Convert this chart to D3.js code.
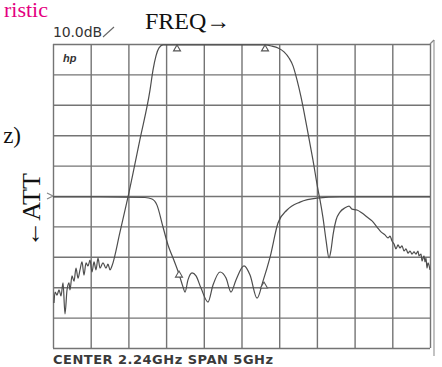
<!DOCTYPE html>
<html>
<head>
<meta charset="utf-8">
<script src="https://cdn.jsdelivr.net/npm/d3@7"></script>
<style>
  html, body { margin: 0; padding: 0; background: #fff; }
  svg { display: block; }
</style>
</head>
<body>
<div id="chart"></div>
<script>
// frequency grid: center 2.24 GHz, span 5 GHz, 0.5 GHz/div
const freqTicks = [-0.26, 0.24, 0.74, 1.24, 1.74, 2.24, 2.74, 3.24, 3.74, 4.24, 4.74];
// attenuation grid: 10 dB/div
const attTicks = [0, -10, -20, -30, -40, -50, -60, -70, -80, -90, -100];

// trace A (transmission)
const traceAFreq = [-0.247, -0.233, -0.207, -0.180, -0.154, -0.127, -0.101, -0.074, -0.048, -0.035,
  -0.008, 0.019, 0.045, 0.072, 0.098, 0.125, 0.151, 0.178, 0.204, 0.231,
  0.257, 0.284, 0.310, 0.337, 0.363, 0.403, 0.443, 0.469, 0.496, 0.522,
  0.629, 0.735, 0.894, 1.027, 1.066, 1.106, 1.146, 1.199, 1.265, 1.690,
  2.220, 2.552, 2.645, 2.724, 2.804, 2.870, 2.923, 2.976, 3.029, 3.109,
  3.188, 3.255, 3.281, 3.321, 3.361, 3.401, 3.427, 3.454, 3.494, 3.546,
  3.613, 3.666, 3.706, 3.772, 3.838, 3.905, 3.971, 4.037, 4.090, 4.143,
  4.183, 4.210, 4.236, 4.263, 4.289, 4.316, 4.342, 4.369, 4.395, 4.422,
  4.448, 4.475, 4.501, 4.528, 4.554, 4.581, 4.594, 4.621, 4.634, 4.661,
  4.674, 4.687, 4.700, 4.714, 4.740];
const traceADb = [-85.2, -81.6, -82.6, -80.9, -82.9, -78.6, -88.8, -80.9, -78.6, -80.9,
  -76.3, -78.0, -73.7, -77.0, -74.3, -71.7, -76.0, -72.0, -73.0, -71.1,
  -75.0, -71.7, -74.3, -70.4, -73.7, -72.0, -73.7, -72.4, -74.3, -73.0,
  -61.8, -50.3, -31.3, -15.1, -8.6, -3.9, -1.3, -0.3, -0.3, -0.3,
  -0.3, -0.3, -0.7, -1.3, -2.6, -4.6, -7.2, -11.8, -17.4, -27.6,
  -38.2, -48.0, -51.3, -57.2, -64.5, -70.4, -67.8, -62.8, -57.9, -55.3,
  -53.9, -53.3, -54.3, -54.6, -55.6, -56.9, -58.2, -60.2, -61.8, -62.8,
  -63.8, -63.2, -64.8, -65.8, -67.4, -66.1, -67.1, -66.4, -68.1, -67.4,
  -68.8, -68.1, -69.1, -68.4, -69.1, -68.1, -69.7, -69.1, -71.4, -69.7,
  -71.7, -70.4, -73.7, -72.0, -74.3];

// trace B (reflection)
const traceBFreq = [-0.26, 0.363, 0.960, 1.053, 1.119, 1.199, 1.265, 1.332, 1.411, 1.464,
  1.491, 1.530, 1.584, 1.637, 1.703, 1.796, 1.862, 1.955, 2.035, 2.101,
  2.167, 2.273, 2.353, 2.446, 2.525, 2.619, 2.724, 2.844, 3.016, 3.241,
  3.546, 4.740];
const traceBDb = [-50.3, -50.3, -50.5, -51.0, -53.0, -60.2, -66.1, -70.4, -75.7, -79.9,
  -81.6, -77.6, -75.3, -76.3, -80.3, -84.9, -79.3, -75.0, -77.0, -81.6,
  -77.6, -73.0, -76.0, -83.6, -78.0, -70.1, -58.9, -54.6, -52.0, -50.7,
  -50.3, -50.3];

// markers (triangles)
const markerAFreq = [1.385, 2.552];
const markerADb = [-0.3, -0.3];
const markerBFreq = [1.411, 2.538];
const markerBDb = [-74.7, -78.3];

const W = 442, H = 367;
const svg = d3.select('#chart').append('svg')
  .attr('width', W)
  .attr('height', H)
  .style('font-family', 'DejaVu Sans, sans-serif');

const x = d3.scaleLinear().domain([-0.26, 4.74]).range([53, 430]);
const y = d3.scaleLinear().domain([0, -100]).range([44, 348]);

const gridColor = '#747474';

// grid lines via axes
svg.append('g')
  .attr('transform', 'translate(0,' + y(-100) + ')')
  .call(d3.axisBottom(x).tickValues(freqTicks).tickSize(y(-100) - y(0)).tickSizeOuter(0).tickFormat(''))
  .call(g => g.select('.domain').remove())
  .selectAll('line')
  .attr('y2', -(y(-100) - y(0)))
  .attr('stroke', gridColor)
  .attr('stroke-width', 1.4);

svg.append('g')
  .attr('transform', 'translate(' + x(-0.26) + ',0)')
  .call(d3.axisLeft(y).tickValues(attTicks).tickSize(-(x(4.74) - x(-0.26))).tickSizeOuter(0).tickFormat(''))
  .call(g => g.select('.domain').remove())
  .selectAll('line')
  .attr('stroke', gridColor)
  .attr('stroke-width', 1.4);

// outer instrument border on the right
svg.append('line')
  .attr('x1', x(4.74) + 4).attr('x2', x(4.74) + 4)
  .attr('y1', y(0) - 4).attr('y2', y(-100) + 8)
  .attr('stroke', '#9a9a9a').attr('stroke-width', 1.2);

// reference markers
svg.append('path')
  .attr('d', 'M' + (x(-0.26) - 6) + ',' + (y(-50) - 3) + 'L' + x(-0.26) + ',' + y(-50) + 'L' + (x(-0.26) - 6) + ',' + (y(-50) + 3))
  .attr('fill', 'none').attr('stroke', '#888').attr('stroke-width', 1.2);
svg.append('path')
  .attr('d', 'M' + (x(4.74) + 4) + ',' + (y(0) - 4) + 'L' + x(4.74) + ',' + y(0))
  .attr('fill', 'none').attr('stroke', '#888').attr('stroke-width', 1.2);

const line = d3.line()
  .x(d => x(d[0]))
  .y(d => y(d[1]))
  .curve(d3.curveMonotoneX);

const traceColor = '#4d4d4d';
svg.append('path')
  .datum(traceAFreq.map((f, i) => [f, traceADb[i]]))
  .attr('d', line)
  .attr('fill', 'none')
  .attr('stroke', traceColor)
  .attr('stroke-width', 1.2);

svg.append('path')
  .datum(traceBFreq.map((f, i) => [f, traceBDb[i]]))
  .attr('d', line)
  .attr('fill', 'none')
  .attr('stroke', traceColor)
  .attr('stroke-width', 1.2);

// marker triangles, apex on the trace
const tri = (px, py) => 'M' + px + ',' + py + 'L' + (px + 3.5) + ',' + (py + 6) + 'L' + (px - 3.5) + ',' + (py + 6) + 'Z';
const markers = markerAFreq.map((f, i) => [f, markerADb[i]])
  .concat(markerBFreq.map((f, i) => [f, markerBDb[i]]));
svg.selectAll('.mk')
  .data(markers)
  .enter().append('path')
  .attr('class', 'mk')
  .attr('d', d => tri(x(d[0]), y(d[1])))
  .attr('fill', '#fff')
  .attr('stroke', '#555')
  .attr('stroke-width', 1.1);

// labels
svg.append('text')
  .attr('x', 48).attr('y', 17)
  .attr('text-anchor', 'end')
  .style('font-family', 'Liberation Serif, serif')
  .style('font-size', '22px')
  .attr('fill', '#e4007f')
  .text('ristic');

svg.append('text')
  .attr('x', 145).attr('y', 29)
  .style('font-family', 'Liberation Serif, serif')
  .style('font-size', '24px')
  .attr('fill', '#111')
  .text('FREQ→');

svg.append('text')
  .attr('x', 21).attr('y', 143)
  .attr('text-anchor', 'end')
  .style('font-family', 'Liberation Serif, serif')
  .style('font-size', '23px')
  .attr('fill', '#111')
  .text('z)');

svg.append('text')
  .attr('transform', 'translate(40,210) rotate(-90)')
  .attr('text-anchor', 'middle')
  .style('font-family', 'Liberation Serif, serif')
  .style('font-size', '26px')
  .attr('fill', '#111')
  .text('←ATT');

svg.append('text')
  .attr('x', 53).attr('y', 37)
  .attr('textLength', 49)
  .style('font-size', '14px')
  .attr('fill', '#333')
  .text('10.0dB');
svg.append('line')
  .attr('x1', 103).attr('y1', 37).attr('x2', 114).attr('y2', 27)
  .attr('stroke', '#666').attr('stroke-width', 1.1);

svg.append('text')
  .attr('x', 63).attr('y', 62)
  .style('font-family', 'Liberation Sans, sans-serif')
  .style('font-size', '11px')
  .style('font-style', 'italic')
  .style('font-weight', 'bold')
  .attr('fill', '#333')
  .text('hp');

svg.append('text')
  .attr('x', 53).attr('y', 364)
  .attr('textLength', 220)
  .style('font-size', '13px')
  .style('font-weight', 'bold')
  .attr('fill', '#3a3a3a')
  .text('CENTER 2.24GHz  SPAN 5GHz');
</script>
</body>
</html>
